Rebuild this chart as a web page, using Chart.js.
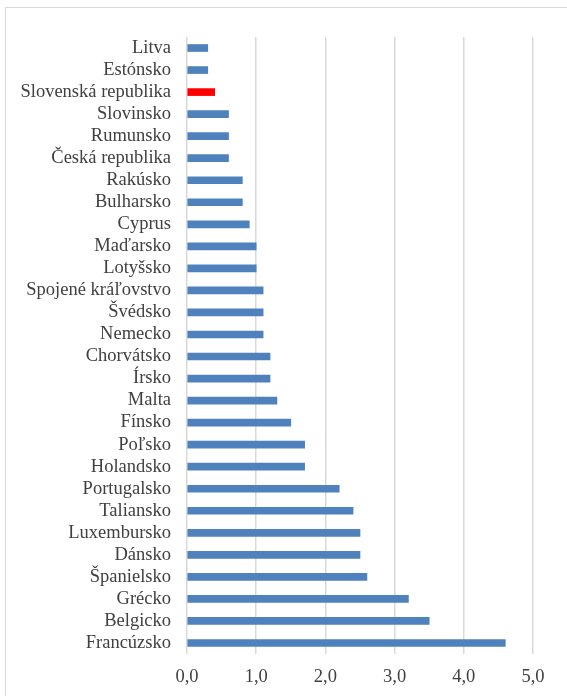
<!DOCTYPE html>
<html>
<head>
<meta charset="utf-8">
<script src="https://cdn.jsdelivr.net/npm/chart.js@4/dist/chart.umd.min.js"></script>
<style>
    html, body { margin: 0; padding: 0; background: #fff; overflow: hidden; }
    #frame { position: absolute; left: 5px; top: 7px; width: 620px; height: 720px; border: 1.5px solid #d9d9d9; }
    #wrap { position: absolute; left: 0; top: 0; width: 567px; height: 696px; }
</style>
</head>
<body>
<div id="frame"></div>
<div id="wrap"><canvas id="chart"></canvas></div>
<script>
// countries, top to bottom
const countries = [
    'Litva', 'Estónsko', 'Slovenská republika', 'Slovinsko', 'Rumunsko', 'Česká republika',
    'Rakúsko', 'Bulharsko', 'Cyprus', 'Maďarsko', 'Lotyšsko', 'Spojené kráľovstvo',
    'Švédsko', 'Nemecko', 'Chorvátsko', 'Írsko', 'Malta', 'Fínsko', 'Poľsko', 'Holandsko',
    'Portugalsko', 'Taliansko', 'Luxembursko', 'Dánsko', 'Španielsko', 'Grécko', 'Belgicko', 'Francúzsko'
];
const values = [
    0.3, 0.3, 0.4, 0.6, 0.6, 0.6,
    0.8, 0.8, 0.9, 1.0, 1.0, 1.1,
    1.1, 1.1, 1.2, 1.2, 1.3, 1.5, 1.7, 1.7,
    2.2, 2.4, 2.5, 2.5, 2.6, 3.2, 3.5, 4.6
];
const xTicks = [0, 1, 2, 3, 4, 5];
const highlight = 'Slovenská republika';

const barColors = countries.map(c => c === highlight ? '#FF0000' : '#4F81BD');

new Chart(document.getElementById('chart'), {
    type: 'bar',
    data: {
        labels: countries,
        datasets: [{
            data: values,
            backgroundColor: barColors,
            borderWidth: 0,
            barThickness: 7
        }]
    },
    options: {
        indexAxis: 'y',
        responsive: true,
        maintainAspectRatio: false,
        animation: false,
        layout: { padding: { left: 0, right: 34, top: 37, bottom: 0 } },
        plugins: {
            legend: { display: false },
            tooltip: { enabled: false }
        },
        scales: {
            x: {
                min: xTicks[0],
                max: xTicks[xTicks.length - 1],
                afterBuildTicks: axis => { axis.ticks = xTicks.map(v => ({ value: v })); },
                grid: { color: '#d9d9d9', lineWidth: 1.5, drawTicks: false },
                border: { display: false },
                ticks: {
                    color: '#404040',
                    padding: 12,
                    font: { family: 'Liberation Serif', size: 18.5 },
                    callback: v => v.toFixed(1).replace('.', ',')
                },
                afterFit: axis => { axis.height = 42; }
            },
            y: {
                grid: { display: false, drawTicks: false },
                border: { display: false },
                ticks: {
                    color: '#404040',
                    padding: 16,
                    autoSkip: false,
                    font: { family: 'Liberation Serif', size: 18.5 }
                },
                afterFit: axis => { axis.width = 187; }
            }
        }
    }
});
</script>
</body>
</html>
